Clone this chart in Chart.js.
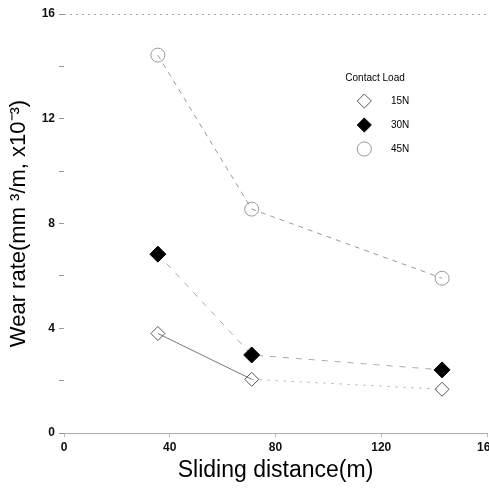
<!DOCTYPE html>
<html>
<head>
<meta charset="utf-8">
<script src="https://cdn.jsdelivr.net/npm/chart.js@4/dist/chart.umd.min.js"></script>
<style>
html, body { margin: 0; padding: 0; background: #fff; }
</style>
</head>
<body>
<canvas id="wearChart" width="489" height="488"></canvas>
<script>
// Data
var distance = [35.5, 71, 143];
var wear15N = [3.8, 2.05, 1.67];
var wear30N = [6.83, 2.98, 2.41];
var wear45N = [14.43, 8.55, 5.91];
var loads = ['15N', '30N', '45N'];
var yTicks = [0, 4, 8, 12, 16];

function toPoints(ys) {
    return distance.map(function(x, i) { return {x: x, y: ys[i]}; });
}

// Put the legend inside the plot, top right
var legendInside = {
    id: 'legendInside',
    afterLayout: function(chart) {
        var lg = chart.legend, area = chart.chartArea;
        var h = lg.height;
        lg.left = area.left + area.width * 0.665;
        lg.top = area.top + 49;
        lg.right = lg.left + lg.width;
        lg.bottom = lg.top + h;
    }
};

var ctx = document.getElementById('wearChart');
var myChart = new Chart(ctx, {
    type: 'scatter',
    data: {
        datasets: [{
            label: loads[0],
            data: toPoints(wear15N),
            showLine: true,
            borderColor: '#777',
            borderWidth: 1,
            segment: {
                borderDash: function(c) { return c.p0DataIndex === 1 ? [2, 6] : undefined; },
                borderColor: function(c) { return c.p0DataIndex === 1 ? '#aaa' : undefined; }
            },
            pointStyle: 'rectRot',
            pointRadius: 7,
            pointBorderWidth: 1,
            pointBorderColor: '#555',
            pointBackgroundColor: 'rgba(255,255,255,0)'
        }, {
            label: loads[1],
            data: toPoints(wear30N),
            showLine: true,
            borderColor: '#aaa',
            borderWidth: 1,
            borderDash: [6, 7],
            pointStyle: 'rectRot',
            pointRadius: 8,
            pointBorderWidth: 1,
            pointBorderColor: '#000',
            pointBackgroundColor: '#000'
        }, {
            label: loads[2],
            data: toPoints(wear45N),
            showLine: true,
            borderColor: '#999',
            borderWidth: 1,
            borderDash: [5, 5],
            pointStyle: 'circle',
            pointRadius: 7,
            pointBorderWidth: 1,
            pointBorderColor: '#999',
            pointBackgroundColor: 'rgba(255,255,255,0)'
        }]
    },
    options: {
        responsive: false,
        animation: false,
        layout: {
            autoPadding: false,
            padding: {top: 14, left: 6, right: 2, bottom: 0}
        },
        scales: {
            x: {
                type: 'linear',
                min: 0,
                max: 160,
                border: {display: true, color: '#aaa', dash: [2, 3]},
                grid: {
                    color: 'rgba(0,0,0,0)',
                    tickColor: '#bbb',
                    tickLength: 4
                },
                ticks: {
                    stepSize: 40,
                    padding: 3,
                    color: '#111',
                    font: {family: 'Liberation Sans', size: 12, weight: 'bold'}
                },
                title: {
                    display: true,
                    text: 'Sliding distance(m)',
                    color: '#000',
                    padding: {top: 0, bottom: 4},
                    font: {family: 'Liberation Sans', size: 23}
                },
                afterFit: function(scale) {
                    scale.height = 55;
                    scale.paddingRight = 0;
                }
            },
            y: {
                min: 0,
                max: 16,
                border: {display: false, dash: [2, 4]},
                grid: {
                    color: function(c) { return c.tick.value === 16 ? '#aaa' : 'rgba(0,0,0,0)'; },
                    tickColor: '#999',
                    tickLength: 5
                },
                ticks: {
                    stepSize: 2,
                    padding: 4,
                    color: '#111',
                    font: {family: 'Liberation Sans', size: 12, weight: 'bold'},
                    callback: function(value) {
                        return yTicks.indexOf(value) >= 0 ? value : '';
                    }
                },
                title: {
                    display: true,
                    text: 'Wear rate(mm \u00b3/m, x10\u207b\u00b3)',
                    color: '#000',
                    padding: 0,
                    font: {family: 'Liberation Sans', size: 22}
                },
                afterFit: function(scale) {
                    scale.width = 58;
                }
            }
        },
        plugins: {
            legend: {
                position: 'chartArea',
                align: 'start',
                title: {
                    display: true,
                    text: 'Contact Load',
                    position: 'start',
                    color: '#000',
                    padding: {top: 10, bottom: -3},
                    font: {family: 'Liberation Sans', size: 10}
                },
                labels: {
                    usePointStyle: true,
                    boxHeight: 10,
                    padding: 14,
                    color: '#000',
                    font: {family: 'Liberation Sans', size: 10},
                    generateLabels: function(chart) {
                        var items = Chart.defaults.plugins.legend.labels.generateLabels(chart);
                        items.forEach(function(it) { it.text = '      ' + it.text; });
                        return items;
                    }
                }
            },
            tooltip: {enabled: false}
        }
    },
    plugins: [legendInside]
});
</script>
</body>
</html>
